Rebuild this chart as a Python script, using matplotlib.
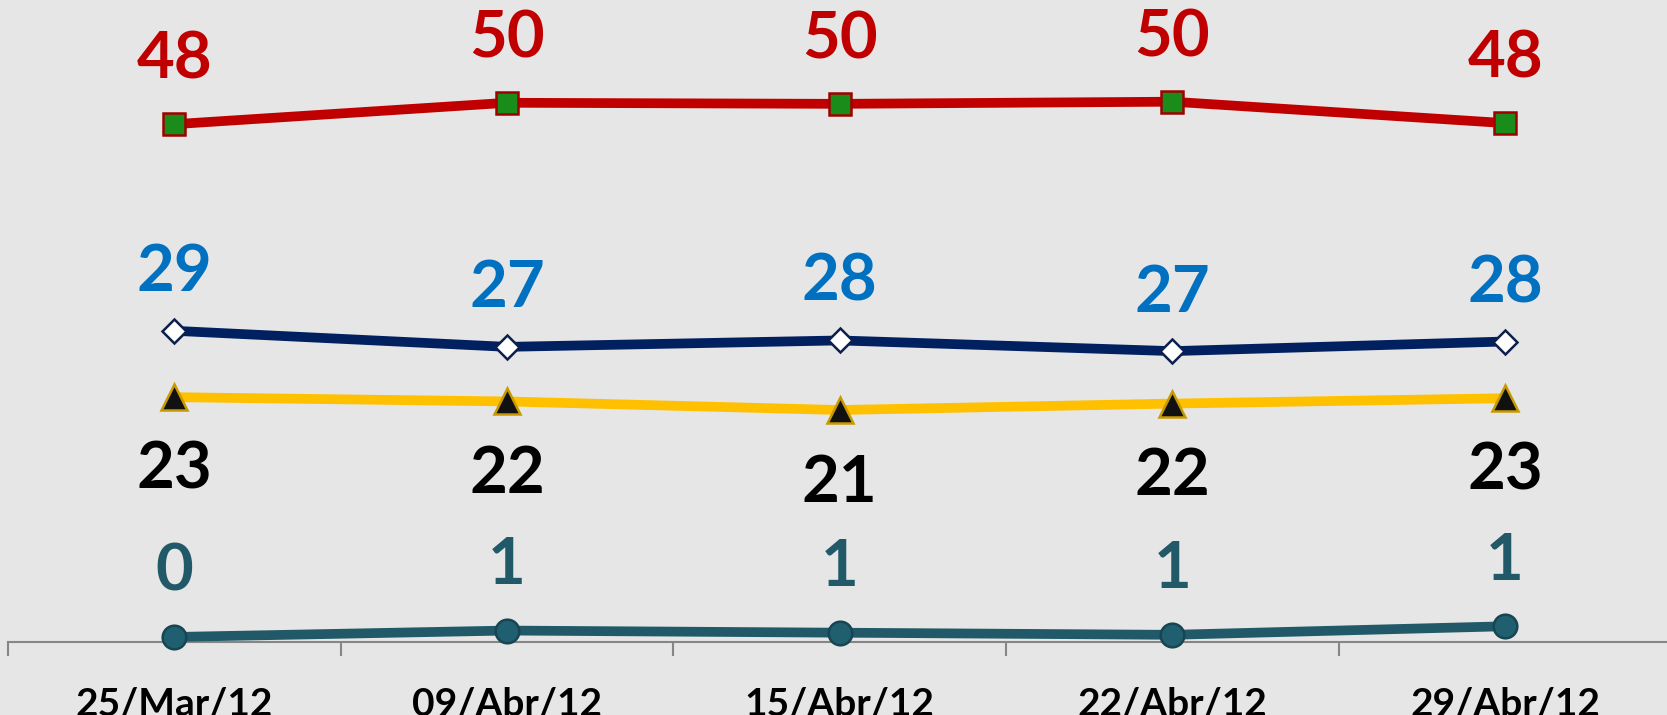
import numpy as np
import matplotlib.pyplot as plt

fechas = ['25/Mar/12', '09/Abr/12', '15/Abr/12', '22/Abr/12', '29/Abr/12']

rojo = [47.9, 49.9, 49.8, 50.0, 48.0]
azul = [28.6, 27.1, 27.7, 26.7, 27.6]
amarillo = [22.4, 22.0, 21.2, 21.8, 22.3]
verde_azul = [0.0, 0.6, 0.4, 0.2, 1.0]

rojo_lbl = [48, 50, 50, 50, 48]
azul_lbl = [29, 27, 28, 27, 28]
amarillo_lbl = [23, 22, 21, 22, 23]
verde_azul_lbl = [0, 1, 1, 1, 1]

bg = '#e6e6e6'
plt.rcParams['font.family'] = ['Lato', 'DejaVu Sans']

fig = plt.figure(figsize=(16.67, 7.15), dpi=100, facecolor=bg)
ax = fig.add_axes([8 / 1667, 73 / 715, 1663.5 / 1667, 642 / 715])
ax.set_facecolor(bg)

x = np.arange(len(fechas))

series = [
    (rojo, rojo_lbl, '#c00000', 7, 's', 16, '#1a8c1a', '#a00000', '#c00000', 64),
    (azul, azul_lbl, '#002060', 7, 'D', 12, 'white', '#0d1f4d', '#0070c0', 58),
    (amarillo, amarillo_lbl, '#ffc000', 7, '^', 19, '#111111', '#c89a00', '#000000', -73),
    (verde_azul, verde_azul_lbl, '#215968', 7, 'o', 17, '#1f5f70', '#174552', '#215968', 65),
]

for vals, lbls, col, lw, mk, ms, mfc, mec, tcol, off in series:
    ax.plot(x, vals, color=col, lw=lw, marker=mk, markersize=ms,
            markerfacecolor=mfc, markeredgecolor=mec, markeredgewidth=1.8,
            zorder=3, clip_on=False)
    for xi, v, l in zip(x, vals, lbls):
        ax.annotate(str(l), (xi, v), xytext=(0, off), textcoords='offset pixels',
                    ha='center', va='center', fontsize=47, fontweight='bold',
                    color=tcol)

ax.set_xlim(-0.5, 4.5)
ax.set_ylim(-0.47, 59.5)

for s in ['top', 'right', 'left']:
    ax.spines[s].set_visible(False)
ax.spines['bottom'].set_color('#868686')
ax.spines['bottom'].set_linewidth(1.5)
ax.set_yticks([])

ax.set_xticks(np.arange(-0.5, 5, 1))
ax.set_xticklabels([])
ax.tick_params(axis='x', which='major', length=10, width=1.5, color='#868686')
ax.set_xticks(x, minor=True)
ax.set_xticklabels(fechas, minor=True, fontsize=28, fontweight='bold')
ax.tick_params(axis='x', which='minor', length=0, pad=32)

fig.savefig('out.png', dpi=100, facecolor=bg)
